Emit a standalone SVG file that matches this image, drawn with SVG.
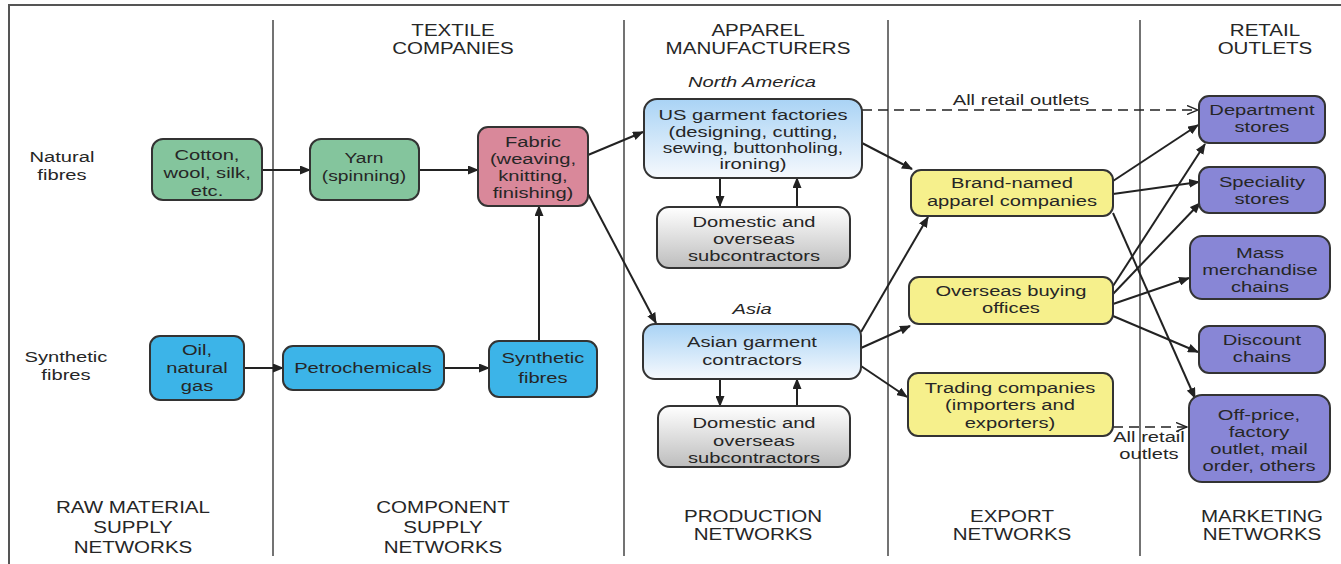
<svg xmlns="http://www.w3.org/2000/svg" width="1341" height="564" viewBox="0 0 1341 564">
<style>
  text { font-family: "Liberation Sans", Arial, sans-serif; font-size: 15.5px; fill: #262626; text-anchor: middle; transform-box: fill-box; transform-origin: center; transform: scaleX(1.3); }
  .it { font-style: italic; }
  .hd { font-size: 15.8px; }
  .nw { transform: scaleX(1.24); }
  .box { stroke: #333; stroke-width: 2; }
  .green { fill: #84c59d; }
  .pink { fill: #d9889a; }
  .blue { fill: #3cb4e8; }
  .yellow { fill: #f6f08c; }
  .purple { fill: #8886d6; }
  .lb { fill: url(#gBlue); }
  .gr { fill: url(#gGray); }
  .frame { fill: none; stroke: #555; stroke-width: 2; }
  .div { stroke: #444; stroke-width: 1.5; }
  .arr { fill: none; stroke: #222; stroke-width: 2; marker-end: url(#ah); }
  .dash { fill: none; stroke: #222; stroke-width: 1.6; stroke-dasharray: 10 6; marker-end: url(#ao); }
</style>
<defs>
  <linearGradient id="gBlue" x1="0" y1="0" x2="0" y2="1">
    <stop offset="0" stop-color="#a9d3f5"/>
    <stop offset="1" stop-color="#f6f9fd"/>
  </linearGradient>
  <linearGradient id="gGray" x1="0" y1="0" x2="0" y2="1">
    <stop offset="0" stop-color="#ffffff"/>
    <stop offset="1" stop-color="#bdbdbd"/>
  </linearGradient>
  <marker id="ah" markerUnits="userSpaceOnUse" markerWidth="11" markerHeight="9" refX="10" refY="4.5" orient="auto">
    <path d="M0,0 L11,4.5 L0,9 z" fill="#222"/>
  </marker>
  <marker id="ao" markerUnits="userSpaceOnUse" markerWidth="12" markerHeight="10" refX="11" refY="5" orient="auto">
    <path d="M0,0.5 L11,5 L0,9.5" fill="none" stroke="#222" stroke-width="1.4"/>
  </marker>
</defs>
<rect width="1341" height="564" fill="#ffffff"/>
<path class="frame" d="M9,564 V5 H1341"/>
<g id="dividers">
  <line class="div" x1="273" y1="20" x2="273" y2="556"/>
  <line class="div" x1="624" y1="20" x2="624" y2="556"/>
  <line class="div" x1="888" y1="20" x2="888" y2="556"/>
  <line class="div" x1="1140" y1="20" x2="1140" y2="556"/>
</g>
<g id="headers">
  <text class="hd" x="453" y="36">TEXTILE</text>
  <text class="hd" x="453" y="54">COMPANIES</text>
  <text class="hd" x="758" y="36">APPAREL</text>
  <text class="hd" x="758" y="54">MANUFACTURERS</text>
  <text class="hd" x="1265" y="36">RETAIL</text>
  <text class="hd" x="1265" y="54">OUTLETS</text>
</g>
<g id="footers">
  <text class="hd" x="133" y="513">RAW MATERIAL</text>
  <text class="hd" x="133" y="533">SUPPLY</text>
  <text class="hd" x="133" y="553">NETWORKS</text>
  <text class="hd" x="443" y="513">COMPONENT</text>
  <text class="hd" x="443" y="533">SUPPLY</text>
  <text class="hd" x="443" y="553">NETWORKS</text>
  <text class="hd" x="753" y="522">PRODUCTION</text>
  <text class="hd" x="753" y="540">NETWORKS</text>
  <text class="hd" x="1012" y="522">EXPORT</text>
  <text class="hd" x="1012" y="540">NETWORKS</text>
  <text class="hd" x="1262" y="522">MARKETING</text>
  <text class="hd" x="1262" y="540">NETWORKS</text>
</g>
<g id="row-labels">
  <text x="62" y="162">Natural</text>
  <text x="62" y="180">fibres</text>
  <text x="66" y="362">Synthetic</text>
  <text x="66" y="380">fibres</text>
  <text class="it" x="752" y="87">North America</text>
  <text class="it" x="752" y="314">Asia</text>
</g>
<g id="connectors">
  <path class="arr" d="M262,170 L310,170"/>
  <path class="arr" d="M419,170 L478,170"/>
  <path class="arr" d="M244,368 L283,368"/>
  <path class="arr" d="M444,368 L489,368"/>
  <path class="arr" d="M539,341 L539,206"/>
  <path class="arr" d="M588,155 L643,132"/>
  <path class="arr" d="M588,194 L656,323"/>
  <path class="arr" d="M720,178 L720,206"/>
  <path class="arr" d="M797,206 L797,178"/>
  <path class="arr" d="M720,379 L720,406"/>
  <path class="arr" d="M797,406 L797,379"/>
  <path class="arr" d="M862,143 L912,169"/>
  <path class="arr" d="M861,332 L928,217"/>
  <path class="arr" d="M861,348 L910,326"/>
  <path class="arr" d="M861,366 L907,397"/>
  <path class="arr" d="M1113,181 L1198,125"/>
  <path class="arr" d="M1113,194 L1199,182"/>
  <path class="arr" d="M1113,213 L1195,398"/>
  <path class="arr" d="M1113,286 L1205,144"/>
  <path class="arr" d="M1113,294 L1200,203"/>
  <path class="arr" d="M1113,304 L1189,278"/>
  <path class="arr" d="M1113,316 L1198,352"/>
  <path class="dash" d="M862,110 L1198,110"/>
  <path class="dash" d="M1113,427 L1187,427"/>
  <text x="1021" y="105">All retail outlets</text>
  <text x="1149" y="442">All retail</text>
  <text x="1149" y="459">outlets</text>
</g>
<g id="cotton">
  <rect class="box green" x="152" y="139" width="110" height="61" rx="11"/>
  <text x="207" y="160">Cotton,</text>
  <text x="207" y="178">wool, silk,</text>
  <text x="207" y="196">etc.</text>
</g>
<g id="yarn">
  <rect class="box green" x="310" y="139" width="109" height="61" rx="11"/>
  <text class="nw" x="364" y="163">Yarn</text>
  <text class="nw" x="364" y="181">(spinning)</text>
</g>
<g id="fabric">
  <rect class="box pink" x="478" y="127" width="110" height="79" rx="10"/>
  <text x="533" y="147">Fabric</text>
  <text x="533" y="164">(weaving,</text>
  <text x="533" y="181">knitting,</text>
  <text x="533" y="198">finishing)</text>
</g>
<g id="oil">
  <rect class="box blue" x="150" y="336" width="94" height="64" rx="10"/>
  <text x="197" y="355">Oil,</text>
  <text x="197" y="373">natural</text>
  <text x="197" y="391">gas</text>
</g>
<g id="petrochemicals">
  <rect class="box blue" x="283" y="346" width="161" height="44" rx="10"/>
  <text x="363" y="373">Petrochemicals</text>
</g>
<g id="synthetic">
  <rect class="box blue" x="489" y="341" width="108" height="56" rx="10"/>
  <text x="543" y="363">Synthetic</text>
  <text x="543" y="383">fibres</text>
</g>
<g id="us-factories">
  <rect class="box lb" x="644" y="99" width="218" height="79" rx="13"/>
  <text x="753" y="120">US garment factories</text>
  <text x="753" y="137">(designing, cutting,</text>
  <text class="nw" x="753" y="153">sewing, buttonholing,</text>
  <text x="753" y="169">ironing)</text>
</g>
<g id="domestic-na">
  <rect class="box gr" x="657" y="207" width="193" height="61" rx="12"/>
  <text x="754" y="227">Domestic and</text>
  <text x="754" y="244">overseas</text>
  <text x="754" y="261">subcontractors</text>
</g>
<g id="asian-contractors">
  <rect class="box lb" x="643" y="324" width="218" height="55" rx="12"/>
  <text x="752" y="347">Asian garment</text>
  <text x="752" y="365">contractors</text>
</g>
<g id="domestic-asia">
  <rect class="box gr" x="658" y="406" width="192" height="61" rx="12"/>
  <text x="754" y="428">Domestic and</text>
  <text x="754" y="446">overseas</text>
  <text x="754" y="463">subcontractors</text>
</g>
<g id="brand-named">
  <rect class="box yellow" x="911" y="170" width="202" height="46" rx="10"/>
  <text x="1012" y="188">Brand-named</text>
  <text x="1012" y="206">apparel companies</text>
</g>
<g id="overseas-buying">
  <rect class="box yellow" x="909" y="277" width="204" height="47" rx="10"/>
  <text x="1011" y="296">Overseas buying</text>
  <text x="1011" y="313">offices</text>
</g>
<g id="trading">
  <rect class="box yellow" x="908" y="373" width="205" height="63" rx="10"/>
  <text x="1010" y="393">Trading companies</text>
  <text x="1010" y="410">(importers and</text>
  <text x="1010" y="428">exporters)</text>
</g>
<g id="department">
  <rect class="box purple" x="1199" y="96" width="126" height="47" rx="10"/>
  <text x="1262" y="115">Department</text>
  <text x="1262" y="132">stores</text>
</g>
<g id="speciality">
  <rect class="box purple" x="1199" y="167" width="126" height="46" rx="10"/>
  <text x="1262" y="187">Speciality</text>
  <text x="1262" y="204">stores</text>
</g>
<g id="mass">
  <rect class="box purple" x="1190" y="236" width="140" height="63" rx="12"/>
  <text x="1260" y="258">Mass</text>
  <text x="1260" y="275">merchandise</text>
  <text x="1260" y="292">chains</text>
</g>
<g id="discount">
  <rect class="box purple" x="1199" y="326" width="126" height="47" rx="10"/>
  <text x="1262" y="345">Discount</text>
  <text x="1262" y="362">chains</text>
</g>
<g id="off-price">
  <rect class="box purple" x="1189" y="395" width="141" height="87" rx="13"/>
  <text x="1259" y="420">Off-price,</text>
  <text x="1259" y="437">factory</text>
  <text x="1259" y="454">outlet, mail</text>
  <text x="1259" y="471">order, others</text>
</g>
</svg>
